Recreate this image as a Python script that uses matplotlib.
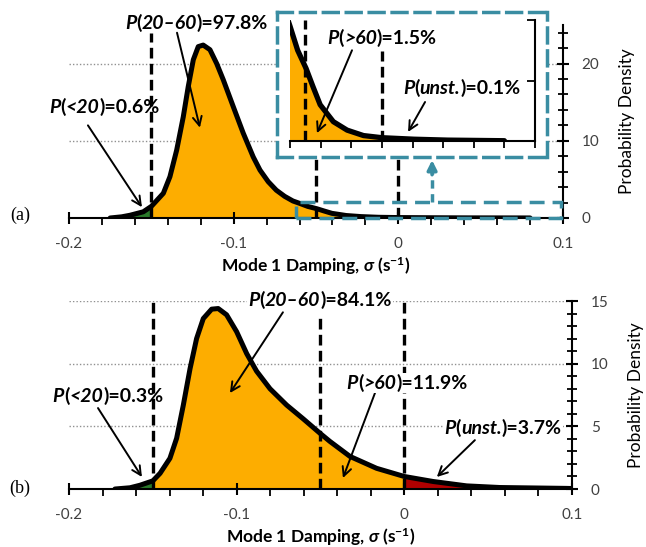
import numpy as np
import matplotlib
matplotlib.use('Agg')
import matplotlib.pyplot as plt
from matplotlib.offsetbox import TextArea, HPacker, AnnotationBbox

plt.rcParams['font.family'] = ['Lato', 'DejaVu Sans']
plt.rcParams['mathtext.fontset'] = 'custom'
plt.rcParams['mathtext.rm'] = 'Lato'
plt.rcParams['mathtext.it'] = 'Lato:italic'
plt.rcParams['mathtext.bf'] = 'Lato:bold'
plt.rcParams['mathtext.bfit'] = 'Lato:bold:italic'

# density curves
top_x = [-0.175, -0.168, -0.163, -0.1549, -0.150, -0.1427, -0.1387, -0.1346, -0.1306,
         -0.1276, -0.1245, -0.1215, -0.1185, -0.1144, -0.1103, -0.1063, -0.1002,
         -0.0942, -0.0881, -0.084, -0.079, -0.0741, -0.069, -0.064, -0.060, -0.055,
         -0.0495, -0.045, -0.0403, -0.0317, -0.0227, -0.012, 0.0, 0.021, 0.043, 0.080]
top_y = [0.0, 0.15, 0.35, 0.8, 1.5, 3.2, 5.35, 8.8, 13.1,
         17.0, 20.5, 22.2, 22.4, 21.8, 20.0, 17.9, 14.4,
         11.0, 7.9, 6.2, 4.7, 3.6, 2.8, 2.2, 1.9, 1.5,
         1.2, 0.9, 0.6, 0.32, 0.18, 0.09, 0.055, 0.03, 0.015, 0.005]

bot_x = [-0.1726, -0.1636, -0.1577, -0.150, -0.1457, -0.1398, -0.1358, -0.1318, -0.1278,
         -0.1239, -0.1199, -0.1149, -0.111, -0.106, -0.100, -0.094, -0.0881, -0.0801,
         -0.0702, -0.0603, -0.0503, -0.0444, -0.0324, -0.0165, 0.0, 0.0172, 0.0372,
         0.057, 0.0968, 0.100]
bot_y = [0.0, 0.1, 0.3, 0.65, 1.25, 2.45, 4.05, 6.7, 9.6,
         12.0, 13.6, 14.35, 14.4, 13.9, 12.55, 10.8, 9.4, 8.0,
         6.7, 5.6, 4.45, 3.8, 2.6, 1.65, 1.0, 0.6, 0.25,
         0.12, 0.05, 0.04]

# boundaries (20% / 60% damping ratio, stability)
bounds = [-0.15, -0.05, 0.0]

top_labels = ['<20', '20\u201360', '>60', 'unst.']
top_probs = ['0.6', '97.8', '1.5', '0.1']
bot_labels = ['<20', '20\u201360', '>60', 'unst.']
bot_probs = ['0.3', '84.1', '11.9', '3.7']

ORANGE = '#FDAD00'
RED = '#B00000'
GREEN = '#2A7A2A'
TEAL = '#3A8DA2'
TICKC = '#404040'
FS = 14


def ptext(ax, xy, lab, prob, white=False):
    bi = dict(fontsize=FS, fontweight='bold', fontstyle='italic')
    b = dict(fontsize=FS, fontweight='bold')
    parts = [TextArea('P', textprops=bi), TextArea('(', textprops=b),
             TextArea(lab, textprops=bi), TextArea(')=' + prob + '%', textprops=b)]
    box = HPacker(children=parts, align='baseline', pad=0, sep=0)
    ab = AnnotationBbox(box, xy, xycoords='data', frameon=white, pad=0.1,
                        box_alignment=(0.5, 0.5), annotation_clip=False,
                        bboxprops=dict(facecolor='white', edgecolor='none'))
    ab.set_zorder(7)
    ax.add_artist(ab)


def draw_curve(ax, x, y, lw=3.6):
    x = np.array(x)
    y = np.array(y)
    ax.fill_between(x, y, where=x <= -0.15, color=GREEN, lw=0)
    ax.fill_between(x, y, where=(x >= -0.15) & (x <= 0.0), color=ORANGE, lw=0)
    ax.fill_between(x, y, where=x >= 0.0, color=RED, lw=0)
    ax.plot(x, y, color='black', lw=lw, solid_capstyle='round', solid_joinstyle='round', zorder=4)


def style_main(ax, ymax, ymajor, yminor):
    ax.set_xlim(-0.2, 0.1)
    ax.set_ylim(0, ymax)
    ax.spines['left'].set_visible(False)
    ax.spines['top'].set_visible(False)
    ax.spines['bottom'].set_linewidth(1.5)
    ax.spines['right'].set_linewidth(1.5)
    ax.yaxis.tick_right()
    ax.set_xticks([-0.2, -0.1, 0.0, 0.1])
    ax.set_xticklabels(['-0.2', '-0.1', '0', '0.1'])
    ax.set_xticks(np.arange(-0.2, 0.101, 0.02), minor=True)
    ax.set_yticks(ymajor)
    ax.set_yticks(yminor, minor=True)
    ax.tick_params(axis='x', which='major', direction='inout', length=9, width=1.5,
                   labelsize=11, labelcolor=TICKC, pad=9)
    ax.tick_params(axis='x', which='minor', direction='out', length=5, width=1.3)
    ax.tick_params(axis='y', which='major', direction='inout', length=9, width=1.5,
                   labelsize=11, labelcolor=TICKC, pad=9)
    ax.tick_params(axis='y', which='minor', direction='inout', length=7, width=1.3)
    ax.set_xlabel(r'Mode 1 Damping, $\mathbfit{\sigma}$ (s$^{\mathbf{-1}}$)',
                  fontsize=12.5, fontweight='bold', labelpad=3)
    ax.yaxis.set_label_position('right')
    ax.set_ylabel('Probability Density', fontsize=12.5, labelpad=14)


def arrow(ax, tail, head):
    ax.annotate('', xy=head, xytext=tail,
                arrowprops=dict(arrowstyle='->', color='black', lw=1.4,
                                mutation_scale=16, shrinkA=0, shrinkB=0),
                annotation_clip=False, zorder=6)


def vdash(ax, x, top):
    ax.plot([x, x], [0, top], color='black', lw=2.4, ls=(0, (3.2, 1.6)), zorder=5)


fig = plt.figure(figsize=(6.46, 5.47), dpi=100)

# ---------------- (a) ----------------
ax1 = fig.add_axes([0.1068, 0.6015, 0.7647, 0.3528])
style_main(ax1, 25, [0, 10, 20], np.arange(0, 25, 2))
for g in [10, 20]:
    ax1.axhline(g, color='#909090', lw=1, ls=(0, (1, 1.5)), zorder=0)
draw_curve(ax1, top_x, top_y)
vdash(ax1, bounds[0], 24)
vdash(ax1, bounds[1], 24)
vdash(ax1, bounds[2], 24)

# zoom box and arrow
ax1.add_patch(plt.Rectangle((-0.062, 0), 0.161, 2.05, fill=False, edgecolor=TEAL,
                            lw=2.5, ls=(0, (4.3, 2.3)), zorder=6, clip_on=False))
ax1.plot([0.0205, 0.0205], [2.05, 6.0], color=TEAL, lw=2.5, ls=(0, (2.4, 1.6)), zorder=6)
ax1.annotate('', xy=(0.0205, 7.5), xytext=(0.0205, 5.6),
             arrowprops=dict(arrowstyle='-|>', color=TEAL, lw=2.5, mutation_scale=14,
                             shrinkA=0, shrinkB=0), zorder=6)

ptext(ax1, (-0.1784, 14.4), top_labels[0], top_probs[0])
arrow(ax1, (-0.1885, 12.0), (-0.1557, 1.4))
ptext(ax1, (-0.1226, 25.3), top_labels[1], top_probs[1])
arrow(ax1, (-0.1344, 24.0), (-0.1205, 11.7))

fig.text(0.031, 0.607, '(a)', fontsize=13, family='Liberation Serif', ha='center', va='center')

# inset background with dashed teal frame
bg = fig.add_axes([0.4288, 0.713, 0.418, 0.265], facecolor='white', zorder=10)
bg.set_xticks([])
bg.set_yticks([])
for s in bg.spines.values():
    s.set_edgecolor(TEAL)
    s.set_linewidth(2.5)
    s.set_linestyle((0, (4.3, 2.3)))

ins = fig.add_axes([0.4489, 0.7422, 0.3793, 0.2212], zorder=11)
ins.patch.set_alpha(0)
ins.set_xlim(-0.06, 0.1)
ins.set_ylim(0, 2)
ins.spines['left'].set_visible(False)
ins.spines['top'].set_visible(False)
ins.spines['bottom'].set_linewidth(1.5)
ins.spines['right'].set_linewidth(1.5)
ins.yaxis.tick_right()
ins.set_xticks(np.arange(-0.06, 0.101, 0.02))
ins.set_yticks([0, 1, 2])
ins.tick_params(axis='x', direction='out', length=5, width=1.3, labelbottom=False)
ins.tick_params(axis='y', direction='in', length=6, width=1.3, labelright=False)
draw_curve(ins, top_x, top_y, lw=3.8)
vdash(ins, bounds[1], 2)
vdash(ins, bounds[2], 1.48)
ptext(ins, (0.0001, 1.70), top_labels[2], top_probs[2])
arrow(ins, (-0.0195, 1.5), (-0.0424, 0.13))
ptext(ins, (0.052, 0.876), top_labels[3], top_probs[3])
arrow(ins, (0.0282, 0.645), (0.0171, 0.15))

# ---------------- (b) ----------------
ax2 = fig.add_axes([0.1068, 0.106, 0.7786, 0.3437])
style_main(ax2, 15, [0, 5, 10, 15], np.arange(0, 15.1, 1))
for g in [5, 10, 15]:
    ax2.axhline(g, color='#909090', lw=1, ls=(0, (1, 1.5)), zorder=0)
draw_curve(ax2, bot_x, bot_y)
vdash(ax2, bounds[0], 15)
vdash(ax2, bounds[1], 13.7)
vdash(ax2, bounds[2], 15)

ptext(ax2, (-0.1767, 7.42), bot_labels[0], bot_probs[0])
arrow(ax2, (-0.1827, 6.46), (-0.1565, 0.96))
ptext(ax2, (-0.0503, 15.08), bot_labels[1], bot_probs[1], white=True)
arrow(ax2, (-0.0724, 14.1), (-0.104, 7.66))
ptext(ax2, (0.0016, 8.46), bot_labels[2], bot_probs[2], white=True)
arrow(ax2, (-0.0175, 7.66), (-0.0366, 0.88))
ptext(ax2, (0.0588, 4.87), bot_labels[3], bot_probs[3], white=True)
arrow(ax2, (0.0421, 3.9), (0.0194, 0.96))

fig.text(0.031, 0.108, '(b)', fontsize=13, family='Liberation Serif', ha='center', va='center')

fig.savefig('out.png', dpi=100)
